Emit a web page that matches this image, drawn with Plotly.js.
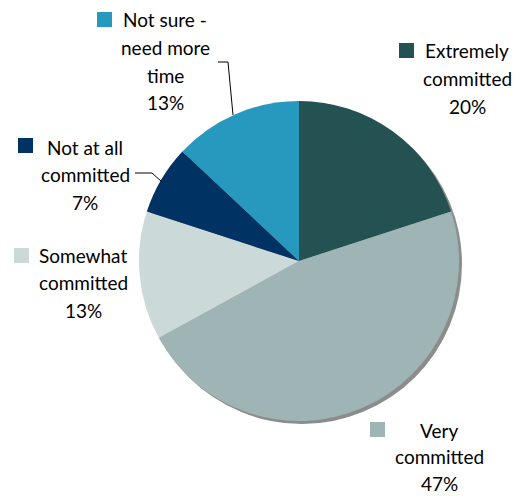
<!DOCTYPE html>
<html>
<head>
<meta charset="utf-8">
<script src="https://cdn.plot.ly/plotly-3.0.1.min.js"></script>
<style>html,body{margin:0;padding:0;background:#fff;}#chart{width:517px;height:496px;}</style>
</head>
<body>
<div id="chart"></div>
<script>
// Data
const categories = ["Extremely committed", "Very committed", "Somewhat committed", "Not at all committed", "Not sure - need more time"];
const values = [20, 47, 13, 7, 13];
const colors = ["#245252", "#9fb5b5", "#cbd9d9", "#003263", "#2799be"];
// Label text lines (without the percentage line)
const labelLines = [
  ["Extremely", "committed"],
  ["Very", "committed"],
  ["Somewhat", "committed"],
  ["Not at all", "committed"],
  ["Not sure -", "need more", "time"]
];

const W = 517, H = 496;
const px = x => x / W;
const py = y => 1 - y / H;

const cx = 299, cy = 261, r = 160;

// label layout: block center x, first line y, square box
const labelPos = [
  {x: 467, y: 51, sq: [399, 43], gap: 27.5},
  {x: 439, y: 430, sq: [370, 422], gap: 26.5},
  {x: 83, y: 255, sq: [14, 248], gap: 27.5},
  {x: 85, y: 147, sq: [18, 138], gap: 27.5},
  {x: 165, y: 20, sq: [97, 12], gap: 27.5}
];
const fontFam = "Lato, 'Open Sans', sans-serif";

const annotations = [];
const shapes = [];

// shadow
shapes.push({type: 'circle', xref: 'paper', yref: 'paper', layer: 'below',
  x0: px(cx - r + 3), x1: px(cx + r + 3), y0: py(cy + r + 3), y1: py(cy - r + 3),
  fillcolor: '#8c8c8c', line: {width: 0}});

categories.forEach((c, i) => {
  const lines = labelLines[i].concat([values[i] + '%']);
  const p = labelPos[i];
  lines.forEach((t, k) => {
    annotations.push({xref: 'paper', yref: 'paper', x: px(p.x), y: py(p.y + k * p.gap),
      xanchor: 'center', yanchor: 'middle', showarrow: false, text: t, borderpad: 0,
      font: {family: fontFam, size: 19, color: '#000'}});
  });
  shapes.push({type: 'rect', xref: 'paper', yref: 'paper',
    x0: px(p.sq[0]), x1: px(p.sq[0] + 15), y0: py(p.sq[1] + 15), y1: py(p.sq[1]),
    fillcolor: colors[i], line: {width: 0}});
});

// leader lines
const leaders = [
  [[218, 62], [228, 62], [233, 115]],
  [[135, 173], [152, 173], [162, 182]]
];
leaders.forEach(pts => {
  for (let k = 0; k < pts.length - 1; k++) {
    shapes.push({type: 'line', xref: 'paper', yref: 'paper',
      x0: px(pts[k][0]), y0: py(pts[k][1]), x1: px(pts[k+1][0]), y1: py(pts[k+1][1]),
      line: {color: '#000', width: 1}});
  }
});

const trace = {
  type: 'pie',
  labels: categories,
  values: values,
  sort: false,
  direction: 'clockwise',
  rotation: 0,
  marker: {colors: colors, line: {width: 0}},
  textinfo: 'none',
  hoverinfo: 'none',
  showlegend: false,
  domain: {x: [px(cx - r), px(cx + r)], y: [py(cy + r), py(cy - r)]}
};

const layout = {
  width: W, height: H,
  margin: {l: 0, r: 0, t: 0, b: 0},
  paper_bgcolor: '#fff',
  showlegend: false,
  annotations: annotations,
  shapes: shapes
};

Plotly.newPlot('chart', [trace], layout, {displayModeBar: false, staticPlot: true});
</script>
</body>
</html>
